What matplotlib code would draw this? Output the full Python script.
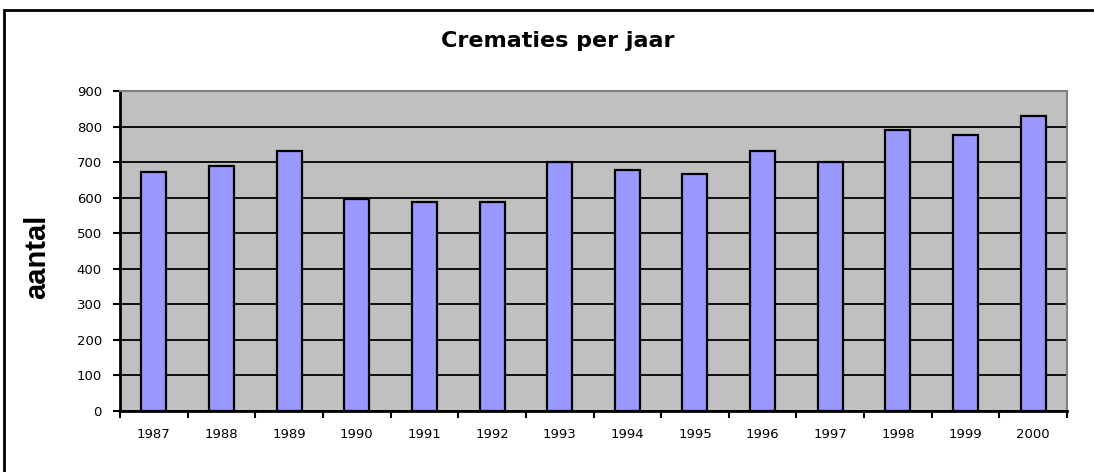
import matplotlib.pyplot as plt
import numpy as np
from matplotlib.patches import Rectangle

# data
years = ['1987', '1988', '1989', '1990', '1991', '1992', '1993',
         '1994', '1995', '1996', '1997', '1998', '1999', '2000']
crematies = [672, 688, 732, 595, 589, 589, 699,
             678, 667, 732, 699, 790, 775, 829]
yticks = [0, 100, 200, 300, 400, 500, 600, 700, 800, 900]

plt.rcParams['font.family'] = ['DejaVu Sans']

fig = plt.figure(figsize=(10.94, 4.72), dpi=100)
ax = fig.add_axes([120 / 1094, 1 - 411 / 472, (1067 - 120) / 1094, (411 - 91) / 472])

x = np.arange(len(years))
ax.set_facecolor('#c0c0c0')
ax.bar(x, crematies, width=0.37, color='#9999ff', edgecolor='black',
       linewidth=1.6, zorder=3)

ax.set_xlim(-0.5, len(years) - 0.5)
ax.set_ylim(0, 900)
ax.set_yticks(yticks)
ax.yaxis.grid(True, color='black', linewidth=1.3, zorder=1)
ax.set_axisbelow(True)

# category labels, tick marks between categories
ax.set_xticks(x)
ax.set_xticklabels(years)
ax.set_xticks(np.arange(-0.5, len(years)), minor=True)
ax.tick_params(axis='x', which='major', length=0, pad=12, labelsize=9.5)
ax.tick_params(axis='x', which='minor', length=5, width=1.5, direction='out')
ax.tick_params(axis='y', length=5, width=1.5, direction='out', pad=8, labelsize=9.5)

for side in ['left', 'bottom']:
    ax.spines[side].set_color('black')
    ax.spines[side].set_linewidth(2)
for side in ['top', 'right']:
    ax.spines[side].set_color('#808080')
    ax.spines[side].set_linewidth(1.5)

fig.text(558 / 1094, 1 - 47 / 472, 'Crematies per jaar', ha='center', va='baseline',
         fontsize=16, fontweight='bold')
fig.text(37.5 / 1094, 1 - 257 / 472, 'aantal', rotation=90, ha='center', va='center',
         fontsize=21, fontweight='bold',
         family=['Liberation Sans Narrow', 'Liberation Sans', 'DejaVu Sans'])

# outer chart frame
fig.patches.append(Rectangle((4 / 1094, -0.05), 1.1, 1 - 10 / 472 + 0.05,
                             transform=fig.transFigure, fill=False,
                             edgecolor='black', linewidth=2))

plt.savefig('out.png', dpi=100)
